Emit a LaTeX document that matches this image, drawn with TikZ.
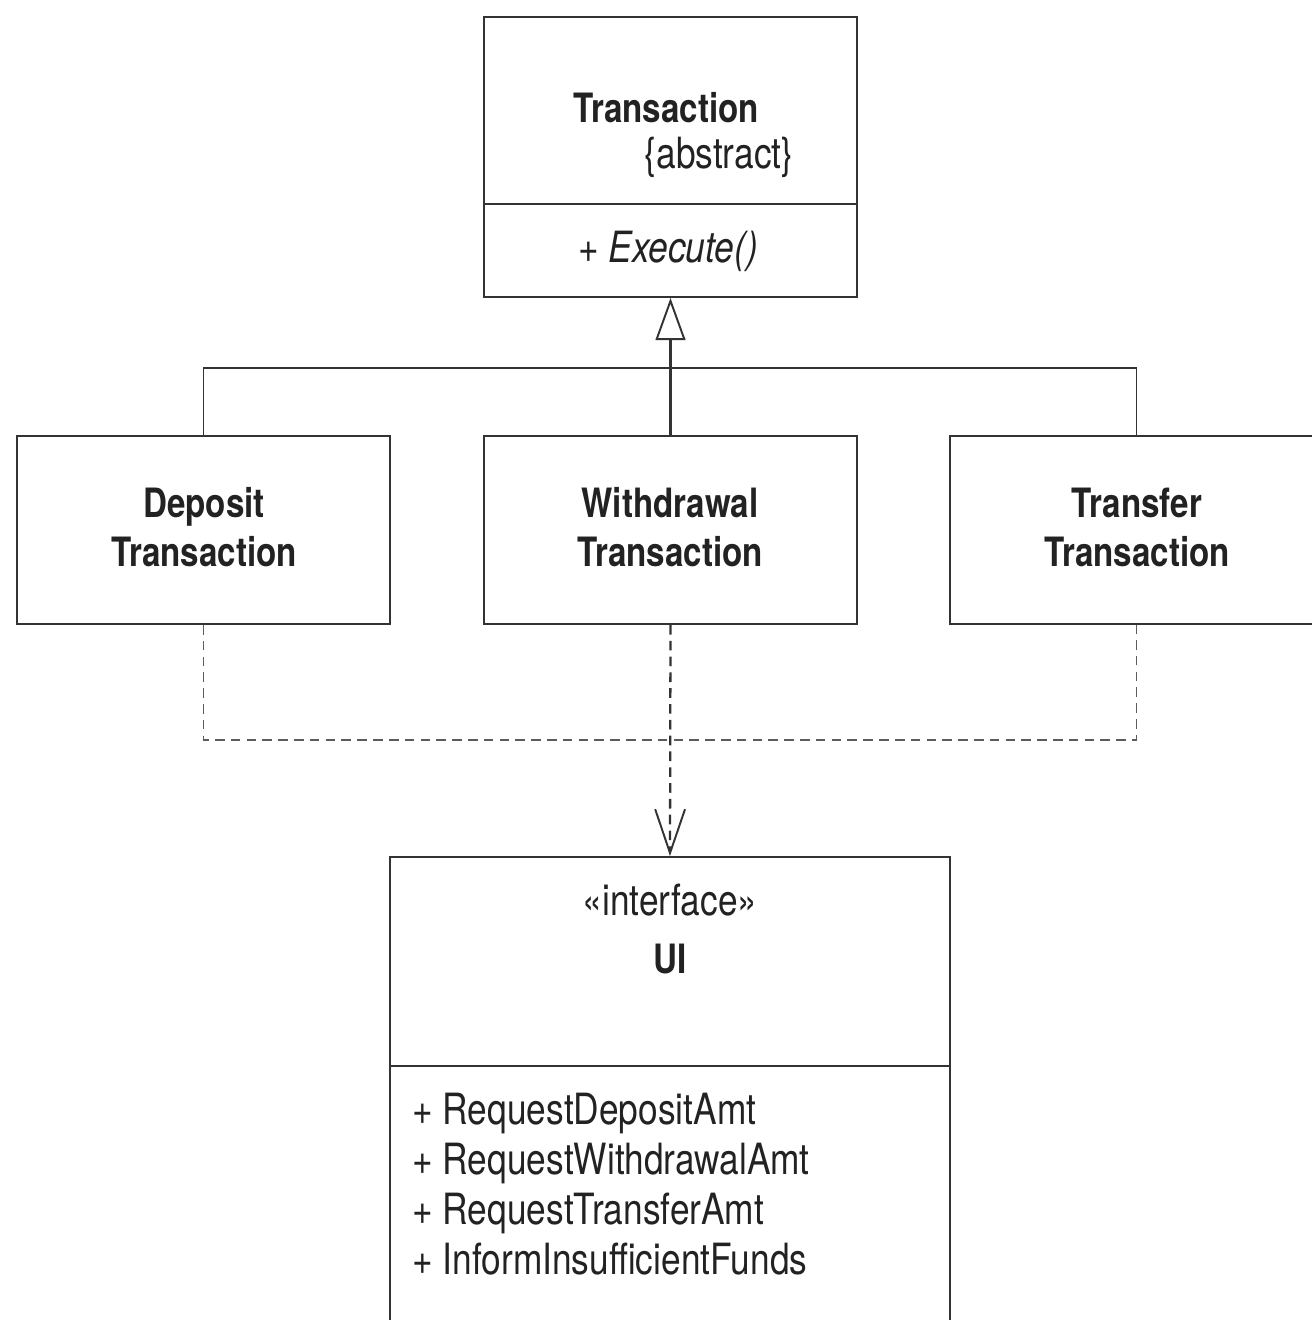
\documentclass[tikz,border=0pt]{standalone}
\usepackage{fontspec}
\setmainfont{TeX Gyre Heros}[FakeStretch=0.82]
\usetikzlibrary{arrows.meta}
\definecolor{ink}{HTML}{222222}
\definecolor{edge}{HTML}{333333}
\begin{document}
\begin{tikzpicture}[x=0.02cm,y=-0.02cm,
  classbox/.style={draw=edge,line width=1.1pt,minimum width=7.46cm,inner sep=0pt},
  bold/.style={text=ink,inner sep=0pt,font=\fontsize{23}{28}\selectfont\bfseries},
  plain/.style={text=ink,inner sep=0pt,font=\fontsize{24.5}{28}\selectfont},
  solidline/.style={draw=edge,line width=0.8pt},
  dashline/.style={draw=edge!80,line width=0.8pt,dash pattern=on 5.5pt off 3.5pt}]
\useasboundingbox (0,0) rectangle (1312,1320);
\clip (0,0) rectangle (1312,1320);

% abstract base class
\node[classbox,minimum height=5.6cm] (trans) at (670.5,157) {};
\draw[edge,line width=1.1pt] (trans.west |- 0,204) -- (trans.east |- 0,204);
\node[bold,anchor=base] (transname) at (666,122) {Transaction};
\node[plain,anchor=base] (transabs) at (719,168) {\{abstract\}};
\node[plain,anchor=base] (transop) at (668,262) {\itshape + Execute()};

% concrete transactions
\node[classbox,minimum height=3.76cm] (dep) at (203.5,530) {};
\node[classbox,minimum height=3.76cm] (wd) at (670.5,530) {};
\node[classbox,minimum height=3.76cm] (tr) at (1136.5,530) {};
\node[bold,anchor=base,align=center] (deptext) at (204,566) {Deposit\\[-0.4pt]Transaction};
\node[bold,anchor=base,align=center] (wdtext) at (670,566) {Withdrawal\\[-0.4pt]Transaction};
\node[bold,anchor=base,align=center] (trtext) at (1137,566) {Transfer\\[-0.4pt]Transaction};

% interface
\node[draw=edge,line width=1.1pt,minimum width=11.2cm,minimum height=9.66cm,inner sep=0pt] (ui) at (670,1098.5) {};
\draw[edge,line width=1.1pt] (ui.west |- 0,1066) -- (ui.east |- 0,1066);
\node[plain,anchor=base] (uistereo) at (670,915) {«interface»};
\node[bold,anchor=base] (uiname) at (670,973) {UI};
\node[plain,anchor=base west] (op1) at (412,1124) {+ RequestDepositAmt};
\node[plain,anchor=base west] (op2) at (412,1174) {+ RequestWithdrawalAmt};
\node[plain,anchor=base west] (op3) at (412,1224) {+ RequestTransferAmt};
\node[plain,anchor=base west] (op4) at (412,1274) {+ InformInsufficientFunds};

% generalization
\coordinate (hub) at (670,368);
\draw[solidline] (dep.north) |- (hub) -| (tr.north);
\draw[solidline,line width=1.2pt,-{Triangle[open,length=24pt,width=17pt,line width=1.1pt]}] (wd.north) -- (trans.south);

% dependency
\coordinate (dhub) at (670,740);
\draw[dashline] (dep.south) |- (dhub) -| (tr.south);
\draw[dashline,draw=edge,line width=1.3pt,-{Straight Barb[length=25pt,width=17pt,line width=1.1pt]}] (wd.south) -- (ui.north);
\end{tikzpicture}
\end{document}
